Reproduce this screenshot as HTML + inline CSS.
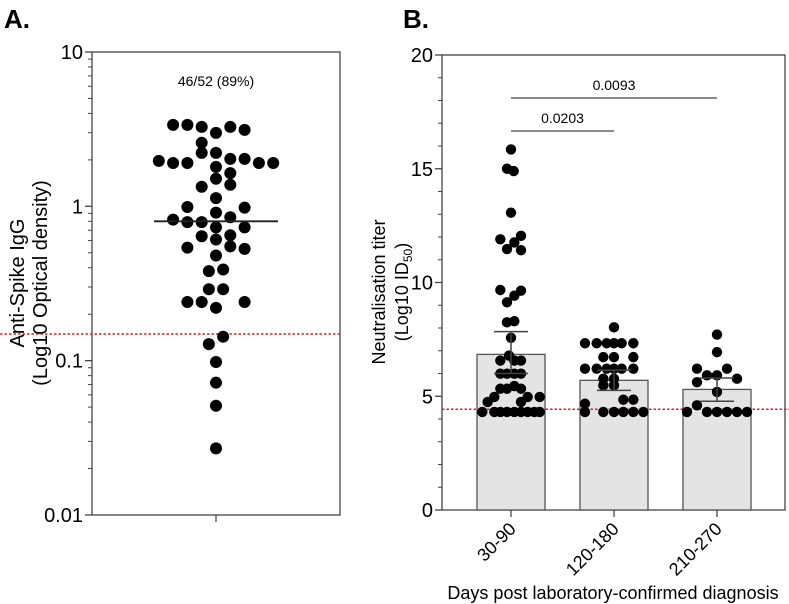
<!DOCTYPE html>
<html><head><meta charset="utf-8"><style>
html,body{margin:0;padding:0;background:#fff;}
svg{display:block;font-family:"Liberation Sans",Arial,sans-serif;}
</style></head><body>
<svg id="chart" width="789" height="604" viewBox="0 0 789 604" xmlns="http://www.w3.org/2000/svg">
<text x="4" y="28" font-size="26" font-weight="bold">A.</text>
<text x="403" y="28" font-size="26" font-weight="bold">B.</text>
<g id="pa"></g>
<g id="pb"></g>
</svg>
<script>
// ---- Panel A data ----
const aValues = [3.37,3.37,3.27,2.99,3.27,3.13,2.58,2.22,2.22,1.97,1.91,1.91,2.03,2.03,1.91,1.91,1.80,1.64,1.51,1.34,1.38,1.13,0.99,0.98,0.91,0.85,0.82,0.79,0.79,0.73,0.73,0.64,0.61,0.65,0.55,0.54,0.53,0.48,0.38,0.39,0.29,0.29,0.24,0.24,0.24,0.22,0.143,0.128,0.098,0.072,0.051,0.027];
const aCols = [-3,-2,-1,0,1,2,-1,-1,0,-4,-3,-2,1,2,3,4,0,1,0,-1,1,0,-2,2,0,1,-3,-2,-1,0,2,-1,0,1,1,-2,2,0,-0.5,0.5,-0.5,0.5,-2,-1,2,0,0.5,-0.5,0,0,0,0];
const aTicks = [10,1,0.1,0.01];
const aTickLabels = ["10","1","0.1","0.01"];
const aMedian = [0.8];
const aCutoff = [0.149];
const aAnnotation = ["46/52 (89%)"];
// ---- Panel B data ----
const bCategories = ["30-90","120-180","210-270"];
const bMeans = [6.84,5.70,5.30];
const bErrLow = [6.0,5.26,4.78];
const bErrHigh = [7.84,6.15,5.80];
const bTicks = [0,5,10,15,20];
const bCutoff = [4.43];
const g1Vals = [15.85,15.0,14.9,13.07,11.9,12.05,11.76,11.47,11.42,9.67,9.64,9.42,9.13,8.25,8.3,7.57,6.79,6.57,6.57,6.57,5.99,5.99,5.99,5.99,5.33,5.33,5.45,5.33,4.97,4.97,4.97,4.75,4.75,4.31,4.31,4.31,4.31,4.31,4.31,4.31,4.31,4.31];
const g1Cols = [0,-0.6,0.4,0,-1.6,1.5,0.5,-0.6,1.5,-1.6,1.5,0.5,-0.6,-0.6,0.5,0,-0.3,-1.6,0.5,1.5,-1.6,-0.6,0.5,1.5,-1.6,-0.6,0.5,1.5,-2.5,2.5,4.3,-3.5,1.5,-4.3,-2.5,-1.6,-0.6,0.5,1.5,2.5,3.5,4.3];
const g2Vals = [8.03,7.33,7.33,7.33,7.33,7.33,7.33,6.72,6.72,6.72,6.21,6.21,6.21,6.21,6.21,6.21,5.77,5.77,5.48,5.48,4.85,4.85,4.67,4.31,4.31,4.31,4.31,4.31,4.31];
const g2Cols = [0,-4.35,-2.6,-1.1,0,1.15,2.9,-1.6,0,2.9,-4.35,-2.6,-1.1,0,1.15,2.9,-1.6,0,-1.6,0,1.4,2.9,-4.35,-4.35,-1.6,0,1.4,2.9,4.4];
const g3Vals = [7.71,6.94,6.21,6.21,5.92,5.92,5.77,5.62,5.19,4.6,4.31,4.31,4.31,4.31,4.31,4.31];
const g3Cols = [0,0,-3,1.5,-1.5,0,3,-3,0,-3,-4.5,-1.5,0,1.5,3,4.5];
const sigLabels = ["0.0203","0.0093"];
const sigFrom = [0,0];
const sigTo = [1,2];

const NS="http://www.w3.org/2000/svg";
function mk(parent,tag,attrs,text){const e=document.createElementNS(NS,tag);for(const k in attrs)e.setAttribute(k,attrs[k]);if(text!==undefined)e.textContent=text;parent.appendChild(e);return e;}

// ---- Panel A ----
const pa=document.getElementById('pa');
const aL=92,aR=340,aT=52,aB=515,aCx=216,aStep=14.3;
function ay(v){return aB-(Math.log10(v)+2)/3*(aB-aT);}
let e;
e=mk(pa,'rect',{x:aL,y:aT,width:aR-aL,height:aB-aT,fill:'none',stroke:'#444','stroke-width':1.3});


for(let d=-2;d<1;d++){for(let m=2;m<=9;m++){const y=ay(m*Math.pow(10,d));
e=mk(pa,'line',{x1:aL-4,x2:aL,y1:y,y2:y,stroke:'#444','stroke-width':1});

}}
aTicks.forEach((t,i)=>{const y=ay(t);
e=mk(pa,'line',{x1:aL-7,x2:aL,y1:y,y2:y,stroke:'#444','stroke-width':1.3});


e=mk(pa,'text',{x:aL-9,y:y+7,'text-anchor':'end','font-size':20},aTickLabels[i]);

});
e=mk(pa,'line',{x1:aCx,x2:aCx,y1:aB,y2:aB+7,stroke:'#444','stroke-width':1.3});


e=mk(pa,'text',{transform:'translate(24,283) rotate(-90)','text-anchor':'middle','font-size':20},'Anti-Spike IgG');


e=mk(pa,'text',{transform:'translate(47,283) rotate(-90)','text-anchor':'middle','font-size':20},'(Log10 Optical density)');


e=mk(pa,'line',{x1:0,x2:aR,y1:ay(aCutoff[0]),y2:ay(aCutoff[0]),stroke:'#e02020','stroke-width':1.5,'stroke-dasharray':'2.5,2'});


e=mk(pa,'text',{x:aCx,y:86,'text-anchor':'middle','font-size':14},aAnnotation[0]);


aValues.forEach((v,i)=>{
e=mk(pa,'circle',{cx:aCx+aCols[i]*aStep,cy:ay(v),r:6,fill:'#000'});

});
e=mk(pa,'line',{x1:154,x2:278,y1:ay(aMedian[0]),y2:ay(aMedian[0]),stroke:'#222','stroke-width':1.8});



// ---- Panel B ----
const pb=document.getElementById('pb');
const bL=442,bR=785,bT=55,bB=510,bMax=20;
const bCenters=[511,614,717],bW=68,bStep=6.67;
function by(v){return bB-v/bMax*(bB-bT);}
e=mk(pb,'rect',{x:bL,y:bT,width:bR-bL,height:bB-bT,fill:'none',stroke:'#444','stroke-width':1.3});


for(let v=1;v<bMax;v++){if(v%5===0)continue;const y=by(v);
e=mk(pb,'line',{x1:bL-4,x2:bL,y1:y,y2:y,stroke:'#444','stroke-width':1});

}
bTicks.forEach(t=>{const y=by(t);
e=mk(pb,'line',{x1:bL-7,x2:bL,y1:y,y2:y,stroke:'#444','stroke-width':1.3});


e=mk(pb,'text',{x:bL-9,y:y+7,'text-anchor':'end','font-size':20},String(t));

});
e=mk(pb,'text',{transform:'translate(385,292) rotate(-90)','text-anchor':'middle','font-size':18},'Neutralisation titer');


e=mk(pb,'text',{transform:'translate(408,292) rotate(-90)','text-anchor':'middle','font-size':18});


e.innerHTML='(Log10 ID<tspan font-size="12" dy="4">50</tspan><tspan dy="-4">)</tspan>';
bCategories.forEach((c,i)=>{const cx=bCenters[i];
e=mk(pb,'rect',{x:cx-bW/2,y:by(bMeans[i]),width:bW,height:bB-by(bMeans[i]),fill:'#e4e4e4',stroke:'#555','stroke-width':1.3});


e=mk(pb,'line',{x1:cx,x2:cx,y1:bB,y2:bB+7,stroke:'#444','stroke-width':1.3});


e=mk(pb,'text',{transform:`translate(${cx+6},${bB+20}) rotate(-45)`,'text-anchor':'end','font-size':18},c);

});
e=mk(pb,'text',{x:613,y:599,'text-anchor':'middle','font-size':18},'Days post laboratory-confirmed diagnosis');


e=mk(pb,'line',{x1:bL,x2:789,y1:by(bCutoff[0]),y2:by(bCutoff[0]),stroke:'#e02020','stroke-width':1.5,'stroke-dasharray':'2.5,2'});


[[g1Vals,g1Cols],[g2Vals,g2Cols],[g3Vals,g3Cols]].forEach((g,gi)=>{
g[0].forEach((v,i)=>{
e=mk(pb,'circle',{cx:bCenters[gi]+g[1][i]*bStep,cy:by(v),r:5.2,fill:'#000'});

});});
bCategories.forEach((c,i)=>{const cx=bCenters[i];
e=mk(pb,'path',{d:`M${cx},${by(bErrLow[i])}V${by(bErrHigh[i])}M${cx-17},${by(bErrHigh[i])}H${cx+17}M${cx-17},${by(bErrLow[i])}H${cx+17}`,stroke:'#444','stroke-width':1.5,fill:'none'});

});
const sigY=[131,98];
sigLabels.forEach((s,i)=>{const x1=bCenters[sigFrom[i]],x2=bCenters[sigTo[i]];
e=mk(pb,'line',{x1:x1,x2:x2,y1:sigY[i],y2:sigY[i],stroke:'#444','stroke-width':1.2});


e=mk(pb,'text',{x:(x1+x2)/2,y:sigY[i]-8,'text-anchor':'middle','font-size':14},s);

});
</script>
</body></html>
